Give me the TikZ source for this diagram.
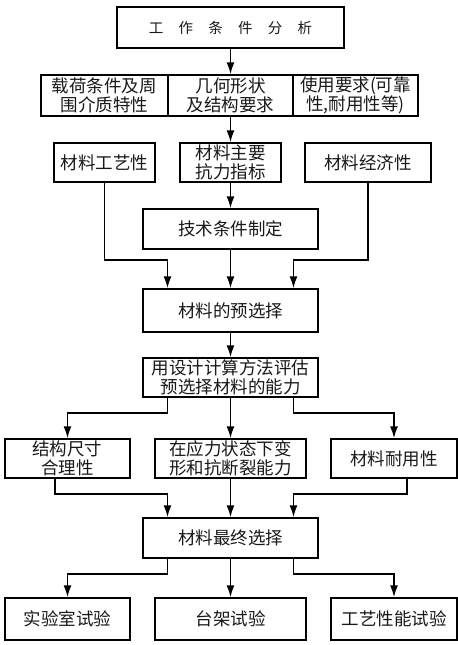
\documentclass[tikz,border=0pt]{standalone}
\usepackage{fontspec}
\newfontfamily\cjk{Noto Sans CJK SC}
\usetikzlibrary{arrows.meta,positioning}
\newcommand\widespace{\spaceskip=1.05em\relax}

\begin{document}
\begin{tikzpicture}[
        x=1bp, y=-1bp,
        font=\cjk\fontsize{17.5bp}{19bp}\selectfont,
        text=black!90,
        >=Latex,
        stepbox/.style={draw=black, line width=1.3bp, fill=white, align=center, inner sep=1pt, minimum height=40bp},
        link/.style={draw=black, line width=1.8bp, -{Latex[length=12bp,width=8bp]}}
    ]
        \useasboundingbox[fill=white] (0,0) rectangle (458,645);

        \node[stepbox, minimum width=227bp, minimum height=41bp, font=\cjk\fontsize{14.5bp}{17bp}\selectfont] (work) at (230.5,27.5) {\widespace 工 作 条 件 分 析};

        \node[stepbox, minimum width=125bp, minimum height=41bp, below=25.7bp of work] (geom) {几何形状\\及结构要求};
        \node[stepbox, minimum width=127bp, minimum height=41bp, left=-1.3bp of geom] (load) {载荷条件及周\\围介质特性};
        \node[stepbox, minimum width=125bp, minimum height=41bp, right=-1.3bp of geom] (use) {使用要求(可靠\\性,耐用性等)};

        \node[stepbox, minimum width=101bp, minimum height=39bp, below=25.7bp of geom] (force) {材料主要\\抗力指标};
        \node[stepbox, minimum width=101bp, minimum height=39bp, left=23.7bp of force] (craft) {材料工艺性};
        \node[stepbox, minimum width=126bp, minimum height=39bp, right=22.7bp of force] (cost) {材料经济性};

        \node[stepbox, minimum width=175bp, below=25.7bp of force] (tech) {技术条件制定};
        \node[stepbox, minimum width=175bp, minimum height=43bp, below=38.7bp of tech] (pre) {材料的预选择};
        \node[stepbox, minimum width=175bp, minimum height=39bp, below=24.7bp of pre] (calc) {用设计计算方法评估\\预选择材料的能力};

        \node[stepbox, minimum width=151bp, minimum height=39bp, below=40.7bp of calc] (stress) {在应力状态下变\\形和抗断裂能力};
        \node[stepbox, minimum width=125bp, minimum height=39bp, left=23.7bp of stress] (size) {结构尺寸\\合理性};
        \node[stepbox, minimum width=126bp, minimum height=39bp, right=23.7bp of stress] (wear) {材料耐用性};

        \node[stepbox, minimum width=175bp, below=38.7bp of stress] (final) {材料最终选择};

        \node[stepbox, minimum width=151bp, minimum height=42bp, below=38.7bp of final] (bench) {台架试验};
        \node[stepbox, minimum width=125bp, minimum height=42bp, left=23.7bp of bench] (lab) {实验室试验};
        \node[stepbox, minimum width=126bp, minimum height=42bp, right=23.7bp of bench] (proc) {工艺性能试验};

        \draw[link] (work) -- (geom);
        \draw[link] (geom) -- (force);
        \draw[link] (force) -- (tech);

        \draw[link] (craft.south) |- ([xshift=-63bp,yshift=28bp]pre.north) -- ([xshift=-63bp]pre.north);
        \draw[link] (tech) -- (pre);
        \draw[link] (cost.south) |- ([xshift=63bp,yshift=28bp]pre.north) -- ([xshift=63bp]pre.north);

        \draw[link] (pre) -- (calc);

        \draw[link] ([xshift=-63bp]calc.south) -- ++(0,15) -| (size.north);
        \draw[link] (calc) -- (stress);
        \draw[link] ([xshift=63bp]calc.south) -- ++(0,15) -| (wear.north);

        \draw[link] ([xshift=-12.5bp]size.south) -- ++(0,15) -| ([xshift=-63bp]final.north);
        \draw[link] (stress) -- (final);
        \draw[link] ([xshift=13bp]wear.south) -- ++(0,15) -| ([xshift=63bp]final.north);

        \draw[link] ([xshift=-63bp]final.south) -- ++(0,15) -| (lab.north);
        \draw[link] (final) -- (bench);
        \draw[link] ([xshift=63bp]final.south) -- ++(0,15) -| (proc.north);
    \end{tikzpicture}
\end{document}
